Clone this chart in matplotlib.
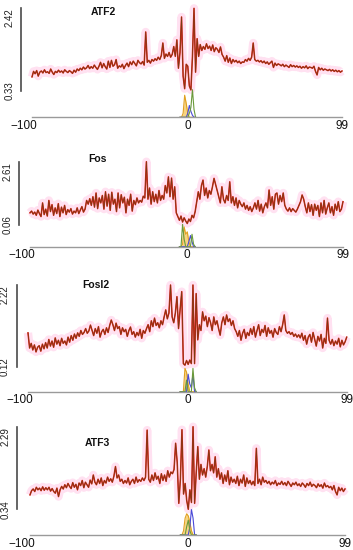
"""Footprint profiles for ATF2 / Fos / Fosl2 / ATF3 (-100..99 bp around motif)."""
import matplotlib
matplotlib.use('Agg')
import matplotlib.pyplot as plt
import matplotlib.transforms as mtransforms

# --- data -------------------------------------------------------------
positions = list(range(-100, 100))
x_ticks = [-100, 0, 99]
x_tick_labels = ['\u2212100', '0', '99']

names = ['ATF2', 'Fos', 'Fosl2', 'ATF3']
y_min = [0.33, 0.06, 0.12, 0.34]
y_max = [2.42, 2.61, 2.22, 2.29]

atf2 = [
    0.68, 0.82, 0.76, 0.84, 0.70, 0.80, 0.83, 0.78, 0.86, 0.79,
    0.81, 0.77, 0.88, 0.80, 0.74, 0.82, 0.79, 0.85, 0.80, 0.83,
    0.78, 0.86, 0.82, 0.79, 0.84, 0.81, 0.77, 0.85, 0.80, 0.88,
    0.84, 0.90, 0.86, 0.93, 0.88, 0.91, 0.97, 0.89, 0.94, 0.90,
    0.98, 0.92, 0.87, 0.95, 1.05, 0.91, 1.02, 0.94, 0.88, 1.08,
    0.92, 1.10, 0.95, 0.99, 1.12, 0.90, 0.96, 0.93, 1.00, 0.89,
    0.97, 1.03, 0.94, 1.06, 0.99, 1.08, 1.02, 0.96, 1.10, 1.04,
    1.01, 1.07, 0.98, 1.82, 1.05, 1.10, 1.03, 1.12, 1.08, 1.14,
    1.10, 1.18, 1.12, 1.22, 1.54, 1.15, 1.26, 1.20, 1.30, 1.18,
    1.25, 1.45, 1.20, 1.62, 0.90, 1.30, 2.20, 0.70, 0.38, 1.00,
    0.95, 0.45, 0.35, 1.20, 2.42, 0.80, 1.65, 1.20, 1.50, 1.35,
    1.45, 1.38, 1.52, 1.40, 1.46, 1.35, 1.49, 1.32, 1.42, 1.38,
    1.30, 1.44, 1.25, 1.18, 1.08, 1.22, 1.05, 1.16, 1.02, 1.12,
    1.06, 1.10, 1.04, 1.08, 1.02, 1.06, 1.05, 1.12, 1.08, 1.15,
    1.10, 1.18, 1.54, 1.12, 1.08, 1.10, 1.06, 1.09, 1.04, 1.08,
    1.02, 1.06, 1.00, 1.04, 1.08, 0.92, 1.03, 0.97, 1.01, 0.99,
    0.96, 1.00, 0.94, 0.98, 0.95, 0.92, 0.99, 0.94, 0.97, 0.93,
    0.96, 0.92, 0.95, 0.90, 0.94, 0.91, 0.96, 0.89, 0.93, 0.92,
    0.90, 0.95, 0.82, 0.73, 0.92, 0.86, 0.90, 0.85, 0.88, 0.86,
    0.84, 0.87, 0.83, 0.86, 0.82, 0.85, 0.81, 0.84, 0.80, 0.83,
]

fos = [
    0.55, 0.62, 0.50, 0.58, 0.45, 0.66, 0.52, 0.40, 0.95, 0.48,
    0.70, 0.42, 1.05, 0.60, 0.88, 0.45, 0.75, 0.52, 0.92, 0.40,
    0.78, 0.55, 0.85, 0.48, 0.68, 0.58, 0.72, 0.50, 0.62, 0.55,
    0.75, 0.52, 0.66, 0.80, 0.58, 0.70, 1.05, 0.90, 1.12, 0.85,
    1.20, 0.78, 1.35, 0.72, 1.15, 0.95, 1.25, 0.70, 1.40, 0.82,
    1.30, 0.65, 1.38, 0.90, 1.10, 0.60, 1.35, 0.75, 1.28, 0.95,
    1.18, 0.55, 1.10, 0.85, 1.30, 0.62, 1.05, 0.88, 1.15, 0.95,
    1.05, 0.98, 1.22, 1.15, 2.61, 1.10, 1.55, 0.90, 1.40, 1.00,
    1.30, 0.95, 1.45, 1.05, 1.25, 1.10, 1.65, 1.35, 2.00, 1.20,
    1.95, 1.10, 1.60, 0.55, 0.40, 0.25, 0.42, 0.18, 0.35, 0.22,
    0.12, 0.30, 0.20, 0.45, 0.35, 0.60, 1.00, 1.40, 1.10, 1.65,
    1.87, 1.25, 1.55, 1.15, 1.45, 1.30, 1.60, 1.94, 1.70, 1.45,
    1.20, 0.95, 1.60, 1.10, 0.95, 1.25, 1.05, 1.80, 0.95, 1.20,
    0.85, 1.15, 0.75, 1.05, 0.90, 0.80, 0.95, 0.70, 0.85, 0.65,
    0.80, 0.60, 0.75, 0.95, 0.70, 1.05, 0.62, 0.90, 0.55, 0.80,
    0.95, 0.75, 1.47, 0.85, 1.20, 0.70, 1.30, 1.35, 0.90, 1.25,
    1.00, 1.35, 0.85, 0.70, 0.62, 0.75, 0.60, 0.72, 0.65, 0.58,
    0.70, 0.85, 1.00, 1.27, 1.10, 0.80, 0.55, 0.95, 0.60, 0.88,
    0.45, 0.90, 0.65, 0.85, 0.40, 0.95, 0.55, 1.05, 0.50, 0.75,
    0.95, 0.55, 0.80, 0.45, 0.90, 0.65, 1.00, 0.60, 0.70, 1.00,
]

fosl2 = [
    0.99, 0.60, 0.72, 0.55, 0.68, 0.50, 0.62, 0.66, 0.52, 0.70,
    0.58, 0.74, 0.60, 0.82, 0.65, 0.78, 0.62, 0.86, 0.70, 0.80,
    0.66, 0.85, 0.72, 0.78, 0.68, 0.88, 0.75, 0.92, 0.80, 0.96,
    0.85, 0.99, 0.90, 1.05, 0.95, 1.00, 1.10, 0.98, 1.04, 1.19,
    1.05, 0.92, 1.10, 0.98, 1.15, 0.88, 1.02, 1.08, 0.95, 1.12,
    1.00, 1.18, 1.32, 1.20, 1.05, 1.24, 1.10, 1.15, 0.95, 1.12,
    1.02, 1.08, 0.90, 1.05, 1.14, 0.95, 1.02, 0.88, 1.00, 0.92,
    1.08, 0.85, 1.05, 0.98, 1.10, 1.20, 1.02, 1.30, 1.15, 1.37,
    1.18, 1.25, 1.12, 1.30, 1.20, 1.40, 1.58, 1.35, 1.50, 2.22,
    1.40, 1.25, 1.50, 1.92, 1.10, 1.60, 2.05, 0.20, 0.16, 0.28,
    0.18, 0.29, 0.20, 2.22, 0.20, 2.00, 0.81, 1.20, 1.05, 1.53,
    1.30, 1.42, 1.15, 1.38, 1.25, 1.05, 1.40, 1.20, 1.30, 1.10,
    0.93, 1.25, 1.40, 1.20, 1.45, 1.28, 1.35, 1.18, 1.30, 1.10,
    1.02, 0.90, 1.05, 0.80, 0.98, 1.08, 0.85, 1.00, 0.92, 1.10,
    0.95, 1.15, 0.88, 1.05, 1.20, 0.92, 1.08, 1.00, 1.18, 0.90,
    1.12, 0.98, 1.05, 0.88, 1.10, 1.00, 0.95, 1.15, 1.02, 1.20,
    1.45, 1.05, 0.98, 1.02, 0.95, 1.00, 0.90, 0.96, 0.88, 0.94,
    0.86, 0.98, 0.80, 0.92, 0.70, 0.88, 0.95, 0.75, 1.00, 0.82,
    0.65, 0.90, 0.78, 0.95, 0.60, 0.85, 0.72, 1.37, 0.80, 0.70,
    0.82, 0.66, 0.78, 0.70, 0.85, 0.63, 0.80, 0.68, 0.76, 0.88,
]

atf3 = [
    0.68, 0.78, 0.82, 0.76, 0.86, 0.80, 0.84, 0.78, 0.87, 0.79,
    0.85, 0.80, 0.86, 0.77, 0.83, 0.76, 0.72, 0.84, 0.64, 0.80,
    0.88, 0.82, 0.92, 0.85, 0.95, 0.88, 0.83, 0.97, 0.86, 0.93,
    0.80, 0.96, 0.90, 1.02, 0.85, 0.98, 0.92, 0.86, 1.03, 0.94,
    1.15, 0.98, 0.92, 1.05, 0.95, 1.08, 0.90, 1.02, 0.96, 1.10,
    1.00, 1.06, 0.98, 1.12, 1.35, 1.08, 1.15, 1.00, 1.05, 0.95,
    1.02, 0.96, 1.08, 0.92, 1.00, 1.05, 0.95, 1.10, 0.98, 1.04,
    1.00, 1.08, 1.02, 1.10, 2.21, 1.05, 0.98, 1.15, 1.02, 1.20,
    1.05, 1.12, 0.95, 1.18, 1.02, 1.15, 1.00, 1.25, 1.10, 1.22,
    1.18, 1.28, 1.90, 1.45, 0.48, 1.05, 2.22, 0.70, 0.95, 0.55,
    0.34, 0.80, 0.50, 2.29, 0.48, 1.20, 1.82, 1.05, 1.40, 1.15,
    1.30, 1.10, 1.35, 1.74, 1.25, 1.40, 1.20, 1.58, 1.10, 1.30,
    1.05, 1.20, 0.95, 1.15, 1.00, 1.25, 0.92, 1.10, 0.98, 1.05,
    0.95, 1.12, 0.90, 1.05, 0.96, 1.15, 0.88, 1.08, 0.95, 1.02,
    0.92, 1.00, 0.90, 1.78, 0.95, 1.05, 0.92, 1.10, 0.98, 1.02,
    0.95, 1.00, 0.92, 0.98, 0.94, 1.02, 0.90, 0.96, 0.93, 1.00,
    0.92, 0.97, 0.90, 1.00, 0.94, 0.88, 0.96, 0.92, 0.98, 0.90,
    0.94, 0.88, 0.96, 0.92, 0.86, 0.95, 0.90, 0.98, 0.88, 0.93,
    0.90, 0.85, 0.94, 0.88, 0.92, 0.84, 0.96, 0.87, 0.90, 0.85,
    0.88, 0.80, 0.90, 0.76, 0.68, 0.86, 0.78, 0.84, 0.76, 0.82,
]
profiles = [atf2, fos, fosl2, atf3]

# small motif tracks under the profile, positions -5..5, heights above the x axis
motif_pos = list(range(-5, 6))
motif_orange = [
    [0, 0, 0.10, 0.56, 0.35, 0.10, 0, 0, 0, 0, 0],
    [0, 0, 0.10, 0.80, 0.50, 0.60, 0.20, 0, 0, 0, 0],
    [0, 0, 0, 0.60, 0.50, 0.20, 0, 0, 0, 0, 0],
    [0, 0, 0.10, 0.40, 0.50, 0.45, 0.30, 0.10, 0, 0, 0],
]
motif_blue = [
    [0, 0, 0, 0, 0, 0.10, 0.30, 0.15, 0.05, 0, 0],
    [0, 0, 0, 0, 0, 0, 0.20, 0.45, 0.20, 0, 0],
    [0, 0, 0, 0, 0, 0.45, 0.20, 0.10, 0.45, 0, 0],
    [0, 0, 0, 0, 0, 0, 0.20, 0.60, 0.40, 0, 0],
]
motif_green = [
    [0, 0, 0, 0, 0, 0, 0.10, 0.25, 0.70, 0.20, 0],
    [0, 0, 0.90, 0.30, 0, 0, 0, 0, 0.50, 0.10, 0],
    [0, 0, 0, 0, 0.30, 0, 0, 0, 0.60, 0.10, 0],
    [0, 0, 0, 0, 0.20, 0.35, 0.10, 0, 0, 0, 0],
]

# --- layout (pixels in the 353x550 image) -----------------------------
W, H = 353, 550
# line start, line end, bar top, bar bottom, x-axis line, y-bar x
layout = [
    (32, 342, 8.3, 90.7, 117.3, 21),
    (30, 343, 161.7, 225, 246.7, 19),
    (28, 346.7, 285, 366.7, 391.7, 16.7),
    (30, 345, 426.7, 509.3, 535, 17.3),
]
title_xy = [(103, 12), (97, 159), (96, 285), (97, 443)]

RED = '#e3221b'
BROWN = '#7a3a12'
PINK = '#ffe1f1'
AXIS_GREY = '#9a9a9a'
BAR = '#4a4a4a'

plt.rcParams['font.family'] = ['Liberation Sans', 'DejaVu Sans']
fig = plt.figure(figsize=(W / 100, H / 100), dpi=100)
fig.patch.set_facecolor('white')

for k in range(4):
    left, right, top, bar_bot, xline, bar_x = layout[k]
    ax = fig.add_axes([left / W, 1 - xline / H, (right - left) / W, (xline - top) / H])
    lo, hi = y_min[k], y_max[k]
    bottom = lo - (hi - lo) * (xline - bar_bot) / (bar_bot - top)
    ax.set_xlim(-100, 99)
    ax.set_ylim(bottom, hi)

    y = profiles[k]
    ax.plot(positions, y, color=PINK, lw=6, solid_joinstyle='round',
            solid_capstyle='butt', zorder=1, clip_on=False)
    ax.plot(positions, y, color=RED, lw=1.1, zorder=3, clip_on=False)
    ax.plot(positions, y, color=BROWN, lw=0.55, zorder=4, clip_on=False)

    # motif tracks
    base = [bottom] * len(motif_pos)
    yo = [bottom + v for v in motif_orange[k]]
    yb = [bottom + v for v in motif_blue[k]]
    yg = [bottom + v for v in motif_green[k]]
    ax.fill_between(motif_pos, base, yo, color='#f5c24a', alpha=0.7, lw=0, zorder=2)
    ax.plot(motif_pos, yo, color='#e0a020', lw=0.8, zorder=2)
    ax.plot(motif_pos, yb, color='#4a4ad8', lw=0.8, zorder=2)
    ax.plot(motif_pos, yg, color='#6a9a3a', lw=0.8, zorder=2)

    # spines
    for s in ('top', 'right'):
        ax.spines[s].set_visible(False)
    ax.spines['bottom'].set_color(AXIS_GREY)
    ax.spines['bottom'].set_linewidth(1.0)
    ax.spines['left'].set_color(BAR)
    ax.spines['left'].set_linewidth(1.2)
    ax.spines['left'].set_bounds(lo, hi)
    ax.spines['left'].set_position(('outward', (left - bar_x) * 0.72))
    ax.set_yticks([])

    ax.set_xticks(x_ticks)
    ax.set_xticklabels(x_tick_labels, fontsize=8.5, color='#111111')
    ax.tick_params(axis='x', length=0, pad=2)
    shift = mtransforms.ScaledTranslation(-8 / 100, 0, fig.dpi_scale_trans)
    lbl = ax.get_xticklabels()[0]
    lbl.set_transform(lbl.get_transform() + shift)

    # rotated min / max labels next to the bar
    off = -(left - bar_x) * 0.72 - 8.5
    ax.annotate(f'{hi:.2f}', xy=(0, hi), xycoords=('axes fraction', 'data'),
                xytext=(off, 0), textcoords='offset points', rotation=90,
                ha='center', va='top', fontsize=7, color='#222222')
    ax.annotate(f'{lo:.2f}', xy=(0, lo), xycoords=('axes fraction', 'data'),
                xytext=(off, 0), textcoords='offset points', rotation=90,
                ha='center', va='center', fontsize=7, color='#222222')

    tx, ty = title_xy[k]
    fig.text(tx / W, 1 - ty / H, names[k], ha='center', va='center',
             fontsize=7.5, fontweight='bold', color='#111111')

plt.savefig('out.png', dpi=100)
plt.close(fig)
